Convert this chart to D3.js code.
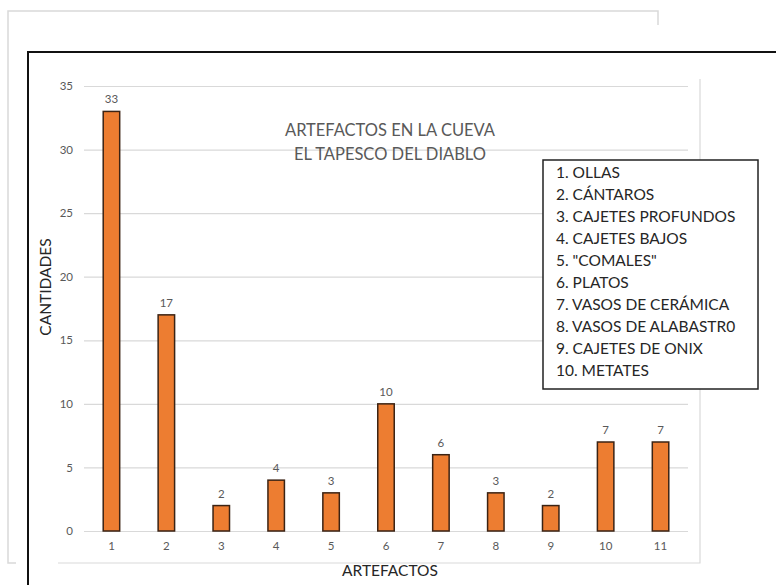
<!DOCTYPE html>
<html>
<head>
<meta charset="utf-8">
<script src="https://cdn.jsdelivr.net/npm/d3@7"></script>
<style>
  body { margin: 0; background: #fff; }
  text { font-family: Lato, "Open Sans", sans-serif; }
</style>
</head>
<body>
<div id="chart"></div>
<script>
// data
const categories = ["1", "2", "3", "4", "5", "6", "7", "8", "9", "10", "11"];
const values = [33, 17, 2, 4, 3, 10, 6, 3, 2, 7, 7];
const yTicks = [0, 5, 10, 15, 20, 25, 30, 35];
const titleLines = ["ARTEFACTOS EN LA CUEVA", "EL TAPESCO DEL DIABLO"];
const legendItems = [
    "1. OLLAS",
    "2. CÁNTAROS",
    "3. CAJETES PROFUNDOS",
    "4. CAJETES BAJOS",
    "5. \"COMALES\"",
    "6. PLATOS",
    "7. VASOS DE CERÁMICA",
    "8. VASOS DE ALABASTR0",
    "9. CAJETES DE ONIX",
    "10. METATES"
];

let width = 776;
let height = 585;

let svg = d3.select("#chart").append("svg")
    .attr("width", width)
    .attr("height", height);

// gray frame behind (screenshot of another window)
svg.append("path")
    .attr("d", "M16,563 H8 V11 H658 V25")
    .attr("fill", "none")
    .attr("stroke", "#d9d9d9")
    .attr("stroke-width", 1.5);

// black outer frame
svg.append("rect")
    .attr("x", 28)
    .attr("y", 52)
    .attr("width", 800)
    .attr("height", 600)
    .attr("fill", "#fff")
    .attr("stroke", "#111")
    .attr("stroke-width", 2);

// chart area edges
svg.append("path")
    .attr("d", "M58,563 H700 V79")
    .attr("fill", "none")
    .attr("stroke", "#d9d9d9")
    .attr("stroke-width", 1.2);

// scales
let x = d3.scaleBand()
    .domain(categories)
    .range([84, 688])
    .paddingInner(0.7)
    .paddingOuter(0.35);

let y = d3.scaleLinear()
    .domain([0, 35])
    .range([531, 86]);

// y axis with gridlines
let yAxis = svg.append("g")
    .attr("transform", "translate(84,0)")
    .call(d3.axisLeft(y).tickValues(yTicks).tickSize(-604).tickPadding(11));
yAxis.select(".domain").remove();
yAxis.selectAll("line").attr("stroke", "#d9d9d9").attr("stroke-width", 1.2);
yAxis.selectAll("text")
    .attr("fill", "#595959")
    .style("font-size", "11.5px");

// x axis
let xAxis = svg.append("g")
    .attr("transform", "translate(0,531)")
    .call(d3.axisBottom(x).tickSize(0).tickPadding(11));
xAxis.select(".domain").remove();
xAxis.selectAll("text")
    .attr("fill", "#595959")
    .style("font-size", "11.5px");

// bars
svg.selectAll(".bar")
    .data(values)
    .enter().append("rect")
    .attr("class", "bar")
    .attr("x", function (d, i) { return x(categories[i]); })
    .attr("y", function (d) { return y(d); })
    .attr("width", x.bandwidth())
    .attr("height", function (d) { return y(0) - y(d); })
    .attr("fill", "#ED7D31")
    .attr("stroke", "#3b2314")
    .attr("stroke-width", 1.5);

// value labels
svg.selectAll(".val")
    .data(values)
    .enter().append("text")
    .attr("class", "val")
    .attr("x", function (d, i) { return x(categories[i]) + x.bandwidth() / 2; })
    .attr("y", function (d) { return y(d) - 8; })
    .attr("text-anchor", "middle")
    .attr("fill", "#595959")
    .style("font-size", "11.5px")
    .text(function (d) { return d; });

// title
svg.append("g").selectAll("text")
    .data(titleLines)
    .enter().append("text")
    .attr("x", 390)
    .attr("y", function (d, i) { return 136 + i * 24; })
    .attr("text-anchor", "middle")
    .attr("fill", "#595959")
    .style("font-size", "16.5px")
    .text(function (d) { return d; });

// axis titles
svg.append("text")
    .attr("transform", "translate(51,287) rotate(-90)")
    .attr("text-anchor", "middle")
    .attr("fill", "#262626")
    .style("font-size", "15.5px")
    .text("CANTIDADES");

svg.append("text")
    .attr("x", 390)
    .attr("y", 576)
    .attr("text-anchor", "middle")
    .attr("fill", "#262626")
    .style("font-size", "15.5px")
    .text("ARTEFACTOS");

// legend box
let legend = svg.append("g");
legend.append("rect")
    .attr("x", 543)
    .attr("y", 160)
    .attr("width", 215)
    .attr("height", 229)
    .attr("fill", "#fff")
    .attr("stroke", "#222")
    .attr("stroke-width", 1.5);
legend.selectAll("text")
    .data(legendItems)
    .enter().append("text")
    .attr("x", 556)
    .attr("y", function (d, i) { return 178 + i * 22; })
    .attr("fill", "#262626")
    .style("font-size", "15.5px")
    .text(function (d) { return d; });
</script>
</body>
</html>
